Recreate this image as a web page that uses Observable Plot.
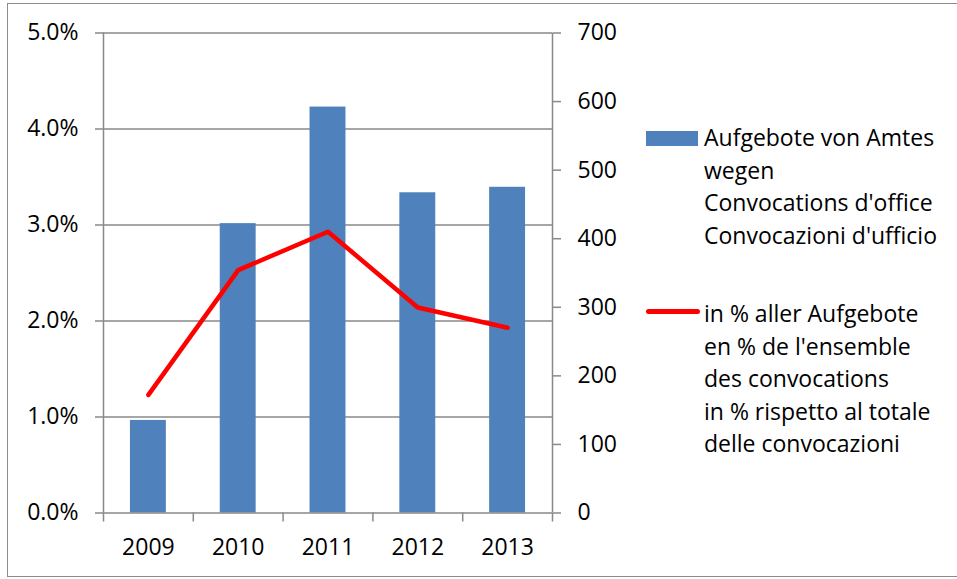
<!DOCTYPE html>
<html>
<head>
<meta charset="utf-8">
<script src="https://cdn.jsdelivr.net/npm/d3@7"></script>
<script src="https://cdn.jsdelivr.net/npm/@observablehq/plot@0.6"></script>
<style>
  html, body { margin: 0; padding: 0; background: #fff; }
  #wrap { position: relative; width: 957px; height: 579px; overflow: hidden; font-family: "Open Sans", sans-serif; }
  #frame { position: absolute; left: 7px; top: 3px; width: 960px; height: 574px; border: 1.5px solid #8c8c8c; box-sizing: border-box; }
  #chart { position: absolute; left: 0; top: 0; }
  .legend { position: absolute; left: 646px; font-size: 23px; line-height: 32.5px; color: #000; }
  .legend .row { position: relative; padding-left: 58px; }
  .legend .sw { position: absolute; left: 0; }
</style>
</head>
<body>
<div id="wrap">
  <div id="frame"></div>
  <div id="chart"></div>
  <div class="legend" id="legend"></div>
</div>
<script>
const years = ["2009", "2010", "2011", "2012", "2013"];
const counts = [135, 422, 592, 467, 475];
const shares = [0.0123, 0.0253, 0.0293, 0.0214, 0.0193];
const leftTicks = [0, 0.01, 0.02, 0.03, 0.04, 0.05];
const rightTicks = [0, 100, 200, 300, 400, 500, 600, 700];
const barLabel = ["Aufgebote von Amtes", "wegen", "Convocations d'office", "Convocazioni d'ufficio"];
const lineLabel = ["in % aller Aufgebote", "en % de l'ensemble", "des convocations", "in % rispetto al totale", "delle convocazioni"];

const rightMax = 700, leftMax = 0.05;
const toLeft = v => v * leftMax / rightMax;

const data = years.map((y, i) => ({i, year: y, count: counts[i], share: shares[i]}));
const boundaries = d3.range(-0.5, years.length, 1);
const gray = "#898989";

const plot = Plot.plot({
  width: 957,
  height: 579,
  marginLeft: 103,
  marginRight: 405,
  marginTop: 32.5,
  marginBottom: 66.5,
  style: {fontFamily: "'Open Sans', sans-serif", fontSize: "23px", color: "#000", background: "transparent"},
  x: {type: "linear", domain: [-0.5, years.length - 0.5]},
  y: {domain: [0, leftMax]},
  marks: [
    Plot.ruleY(leftTicks.slice(1), {stroke: gray, strokeWidth: 1.5, strokeOpacity: 1}),
    Plot.rectY(data, {x1: d => d.i - 0.2, x2: d => d.i + 0.2, y1: 0, y2: d => toLeft(d.count), fill: "#4F81BD"}),
    Plot.ruleX([-0.5], {stroke: gray, strokeWidth: 1.5}),
    Plot.ruleX([years.length - 0.5], {stroke: gray, strokeWidth: 1.5}),
    Plot.ruleY([0], {stroke: gray, strokeWidth: 1.5}),
    Plot.lineY(data, {x: "i", y: "share", stroke: "#FF0000", strokeWidth: 4.5, strokeLinecap: "round", strokeLinejoin: "round"}),
    Plot.axisY({anchor: "left", ticks: leftTicks, tickFormat: d3.format(".1%"), tickSize: 8, tickPadding: 17, stroke: gray, strokeWidth: 1.5, label: null, fill: "#000"}),
    Plot.axisY({anchor: "right", ticks: rightTicks.map(toLeft), tickFormat: v => String(Math.round(v * rightMax / leftMax)), tickSize: 8, tickPadding: 17, stroke: gray, strokeWidth: 1.5, label: null, fill: "#000"}),
    Plot.axisX({ticks: boundaries, tickFormat: () => "", tickSize: 9, stroke: gray, strokeWidth: 1.5, label: null}),
    Plot.axisX({ticks: d3.range(years.length), tickFormat: i => years[i], tickSize: 0, tickPadding: 26, label: null, fill: "#000"})
  ]
});
document.getElementById("chart").appendChild(plot);

const legend = document.getElementById("legend");
legend.style.top = "121px";
function addBlock(lines, swatch, marginTop) {
  const row = document.createElement("div");
  row.className = "row";
  row.style.marginTop = marginTop + "px";
  row.innerHTML = lines.map(l => `<div>${l}</div>`).join("");
  const sw = document.createElement("div");
  sw.className = "sw";
  Object.assign(sw.style, swatch);
  row.appendChild(sw);
  legend.appendChild(row);
}
addBlock(barLabel, {top: "10px", width: "52px", height: "15px", background: "#4F81BD"}, 0);
addBlock(lineLabel, {top: "12px", width: "54px", height: "4.5px", background: "#FF0000", borderRadius: "3px"}, 46);
</script>
</body>
</html>
